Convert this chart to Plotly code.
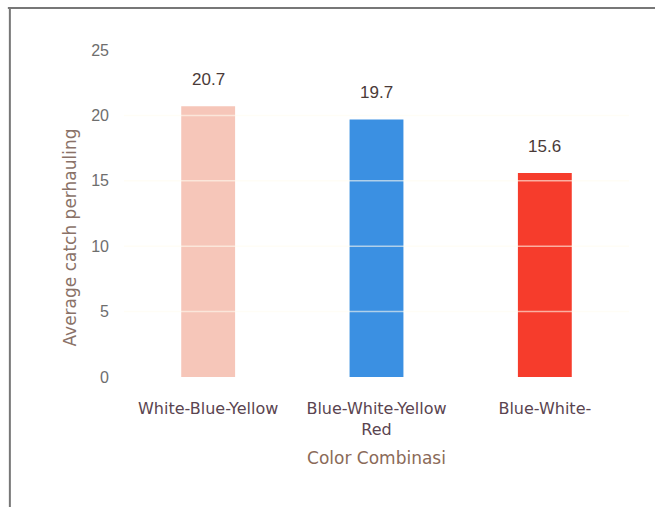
import plotly.graph_objects as go

# Average catch per hauling for each light colour combination
combinations = ["White-Blue-Yellow", "Blue-White-Yellow<br>Red", "Blue-White-"]
avg_catch = [20.7, 19.7, 15.6]
bar_colors = ["#f6c6b9", "#3b90e2", "#f63c2c"]
y_ticks = [0, 5, 10, 15, 20, 25]

fig = go.Figure()
fig.add_trace(go.Bar(
    x=combinations,
    y=avg_catch,
    marker=dict(color=bar_colors, line=dict(width=0)),
    width=0.32,
    showlegend=False,
))

# value labels above each bar
for cat, val in zip(combinations, avg_catch):
    fig.add_annotation(
        x=cat, y=val, text=f"{val:.1f}", showarrow=False,
        yanchor="bottom", yshift=15,
        font=dict(family="Liberation Sans, Arial", size=17, color="#4a3a38"),
    )

# light grid lines drawn over the bars
for t in y_ticks[1:-1]:
    fig.add_shape(
        type="line", xref="paper", yref="y", x0=0, x1=1, y0=t, y1=t,
        line=dict(color="rgba(255,252,240,0.6)", width=1.5), layer="above",
    )

# y-axis title
fig.add_annotation(
    xref="paper", yref="paper", x=-0.107, y=0.41,
    text="Average catch perhauling", textangle=-90, showarrow=False,
    xanchor="center", yanchor="middle",
    font=dict(family="DejaVu Sans, Arial", size=17, color="#8a7268"),
)

# outer frame (top and left edges)
fig.add_shape(type="line", xref="paper", yref="paper",
              x0=-0.23, x1=1.06, y0=1.085, y1=1.085,
              line=dict(color="#777777", width=2))
fig.add_shape(type="line", xref="paper", yref="paper",
              x0=-0.226, x1=-0.226, y0=1.087, y1=-0.4,
              line=dict(color="#777777", width=2))

fig.update_layout(
    width=655, height=507,
    margin=dict(l=124, r=26, t=37, b=130),
    paper_bgcolor="white", plot_bgcolor="white",
    font=dict(family="Liberation Sans, Arial", size=15, color="#555555"),
    xaxis=dict(
        title=dict(text="Color Combinasi",
                   font=dict(family="DejaVu Sans, Arial", size=17, color="#8a6a58"),
                   standoff=14),
        tickfont=dict(family="DejaVu Sans, Arial", size=16, color="#5a4450"),
        showgrid=False, zeroline=False, showline=False,
        ticks="", ticklabelstandoff=20,
    ),
    yaxis=dict(
        range=[0, 26], tickvals=y_ticks,
        tickfont=dict(size=16, color="#6e6e6e"),
        showgrid=False, zeroline=False, showline=False,
        ticks="", ticklabelstandoff=14,
    ),
)

fig.write_html("out.html")
